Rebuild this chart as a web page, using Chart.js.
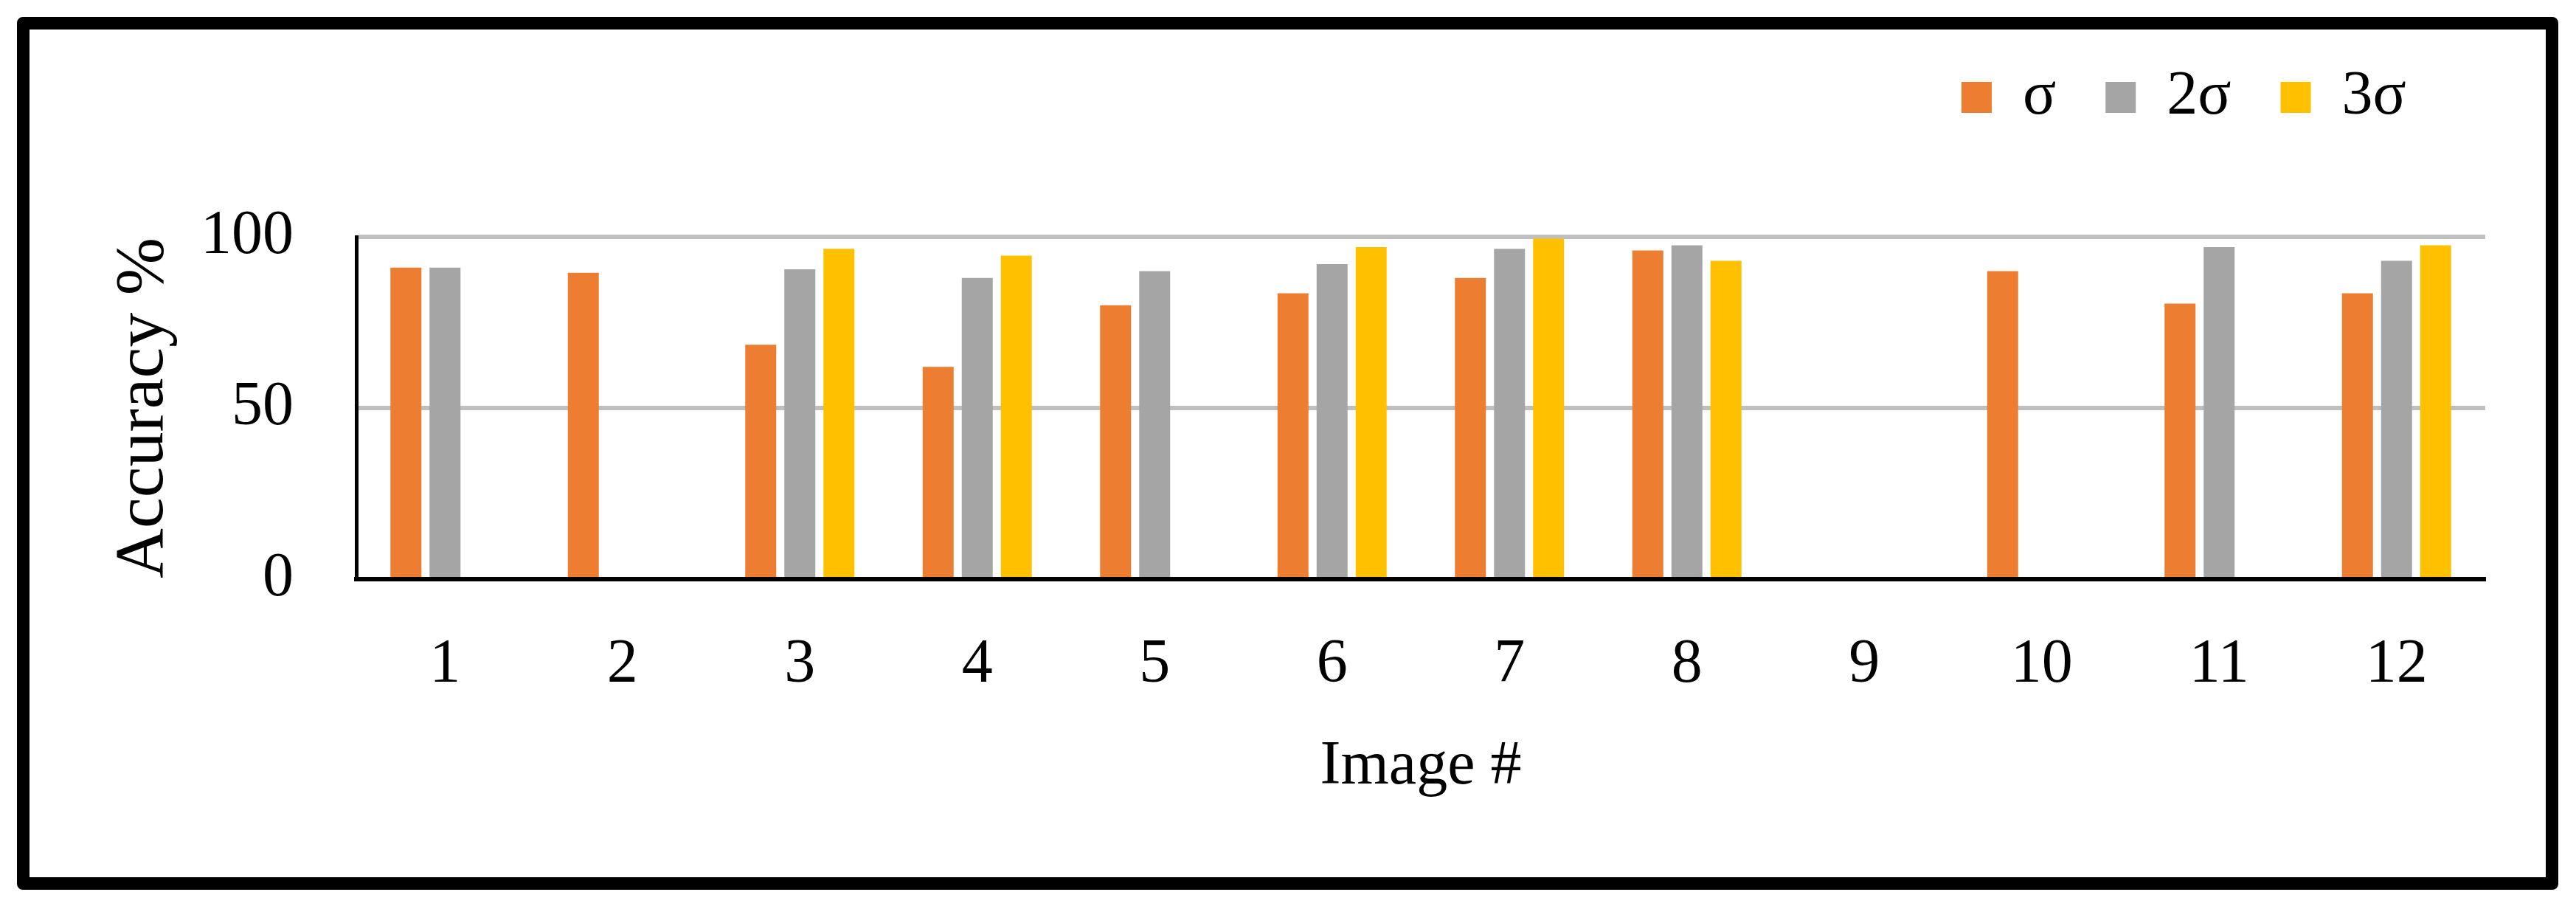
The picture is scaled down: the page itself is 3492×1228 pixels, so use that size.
<!DOCTYPE html>
<html>
<head>
<meta charset="utf-8">
<script src="https://cdn.jsdelivr.net/npm/chart.js@4.4.1/dist/chart.umd.min.js"></script>
<style>
  html, body { margin: 0; padding: 0; background: #ffffff; overflow: hidden; }
  #frame { position: absolute; left: 23px; top: 23px; width: 3445px; height: 1183px;
           box-sizing: border-box; border: 17px solid #000; border-radius: 8px; }
  #c { position: absolute; left: 0; top: 0; }
</style>
</head>
<body>
<div id="frame"></div>
<canvas id="c" width="3492" height="1228"></canvas>
<script>
// ---- data ----
const categories = ['1', '2', '3', '4', '5', '6', '7', '8', '9', '10', '11', '12'];
const seriesNames = ['σ', '2σ', '3σ'];
const sigma1 = [91, 89.5, 68.5, 62, 80, 83.5, 88, 96, null, 90, 80.5, 83.5];
const sigma2 = [91, null, 90.5, 88, 90, 92, 96.5, 97.5, null, null, 97, 93];
const sigma3 = [null, null, 96.5, 94.5, null, 97, 99.5, 93, null, null, null, 97.5];
const yTickValues = [0, 50, 100];
const xAxisTitle = 'Image #';
const yAxisTitle = 'Accuracy %';

const seriesColors = ['#ED7D31', '#A5A5A5', '#FFC000'];
const FONT = '"Liberation Serif", "Times New Roman", serif';

const legendPlacer = {
  id: 'legendPlacer',
  afterLayout(chart) {
    const lg = chart.legend;
    if (!lg || !lg.lineWidths) return;
    const dx = 2659 - (lg.right - lg.lineWidths[0]);
    const dy = 90 - (lg.top + lg.options.labels.padding);
    lg.left += dx; lg.right += dx; lg.top += dy; lg.bottom += dy;
  }
};

new Chart(document.getElementById('c'), {
  type: 'bar',
  data: {
    labels: categories,
    datasets: [sigma1, sigma2, sigma3].map((d, i) => ({
      label: seriesNames[i],
      data: d,
      backgroundColor: seriesColors[i],
      borderWidth: 0,
      categoryPercentage: 0.661,
      barPercentage: 0.792
    }))
  },
  options: {
    responsive: false,
    animation: false,
    devicePixelRatio: 1,
    layout: { padding: { left: 139, right: 123, top: 160, bottom: 138 } },
    plugins: {
      tooltip: { enabled: false },
      legend: {
        display: true,
        position: 'top',
        align: 'end',
        labels: {
          boxWidth: 41,
          boxHeight: 42,
          padding: 67,
          color: '#000',
          font: { family: FONT, size: 84 }
        }
      }
    },
    scales: {
      x: {
        grid: { display: false, drawTicks: false },
        border: { display: true, color: '#000000', width: 6 },
        ticks: { color: '#000', padding: 67, font: { family: FONT, size: 84 }, maxRotation: 0 },
        title: { display: true, text: xAxisTitle, color: '#000', padding: 0, font: { family: FONT, size: 84 } },
        afterFit(scale) { scale.height = 305; }
      },
      y: {
        min: 0,
        max: 100,
        afterBuildTicks(scale) { scale.ticks = yTickValues.map(v => ({ value: v })); },
        grid: {
          drawTicks: false,
          lineWidth: 6,
          color: (ctx) => (ctx.tick && ctx.tick.value === 0) ? 'rgba(0,0,0,0)' : '#BFBFBF'
        },
        border: { display: true, color: '#000000', width: 5 },
        ticks: { color: '#000', padding: 85, font: { family: FONT, size: 84 } },
        title: { display: true, text: yAxisTitle, color: '#000', padding: 0, font: { family: FONT, size: 94 } },
        afterFit(scale) { scale.width = 344; }
      }
    }
  },
  plugins: [legendPlacer]
});
</script>
</body>
</html>
